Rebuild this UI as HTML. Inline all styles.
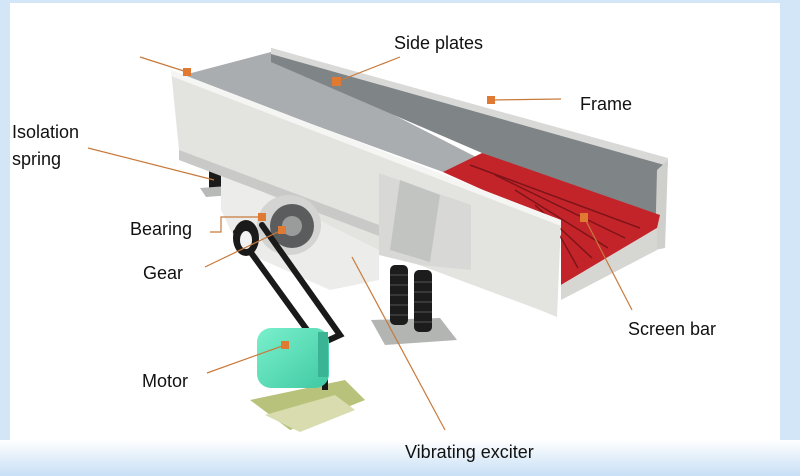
<!DOCTYPE html>
<html><head><meta charset="utf-8"><style>
html,body{margin:0;padding:0;width:800px;height:476px;overflow:hidden;background:#cfe4f6}
svg{display:block}
text{font-family:"Liberation Sans",sans-serif;font-size:18px;fill:#111}
</style></head><body>
<svg width="800" height="476" viewBox="0 0 800 476">
<defs>
<linearGradient id="bb" x1="0" y1="0" x2="0" y2="1"><stop offset="0" stop-color="#ffffff"/><stop offset="1" stop-color="#c7dff5"/></linearGradient>
<linearGradient id="mot" x1="0" y1="0" x2="1" y2="1"><stop offset="0" stop-color="#7af0cc"/><stop offset="1" stop-color="#3fc9a3"/></linearGradient>
</defs>
<rect width="800" height="476" fill="#d3e6f7"/>
<rect x="0" y="440" width="800" height="36" fill="url(#bb)"/>
<rect x="10" y="3" width="770" height="437" fill="#ffffff"/>

<!-- inner floor -->
<polygon points="180,76 271,52 560,200 443,172" fill="#a9adb0"/>
<!-- back wall -->
<polygon points="271,48 668,160 660,225 482,153 271,62" fill="#7f8487"/>
<polygon points="271,48 668,158 668,166 271,54" fill="#d9dad8"/>
<!-- right end frame strip -->
<polygon points="657,170 668,160 665,248 655,250" fill="#cfd0cc"/>
<!-- red screen bars -->
<polygon points="443,172 482,153 660,215 657,228 561,285 561,225" fill="#c3242a"/>
<g stroke="#7e1418" stroke-width="1.5">
<line x1="470" y1="165" x2="640" y2="228"/>
<line x1="495" y1="175" x2="625" y2="238"/>
<line x1="515" y1="190" x2="608" y2="248"/>
<line x1="535" y1="205" x2="592" y2="258"/>
<line x1="550" y1="218" x2="578" y2="268"/>
</g>
<polygon points="561,285 657,228 657,250 561,300" fill="#d6d7d3"/>
<!-- isolation spring left -->
<rect x="209" y="168" width="12" height="22" fill="#1b1b1b"/>
<polygon points="200,188 228,186 232,195 206,197" fill="#b8bab8"/>
<!-- exciter housing -->
<polygon points="221,168 379,240 379,280 330,290 240,250 221,210" fill="#ececea"/>
<!-- front plate -->
<polygon points="171,70 561,220 557,317 540,310 379,250 179,150" fill="#e3e3e0"/>
<polygon points="171,70 561,220 561,226 171,76" fill="#f5f5f3"/>
<polygon points="179,150 379,225 379,236 179,160" fill="#c9cac7"/>
<!-- center bracket -->
<polygon points="379,173 471,205 471,270 420,265 379,255" fill="#d8d9d6"/>
<polygon points="400,180 440,195 430,262 390,250" fill="#c2c4c1"/>
<!-- middle springs -->
<polygon points="371,320 440,318 457,340 385,345" fill="#b3b5b3"/>
<rect x="390" y="265" width="18" height="60" rx="5" fill="#1c1c1c"/>
<rect x="414" y="270" width="18" height="62" rx="5" fill="#1c1c1c"/>
<g stroke="#555" stroke-width="1">
<line x1="390" y1="275" x2="408" y2="275"/><line x1="390" y1="285" x2="408" y2="285"/><line x1="390" y1="295" x2="408" y2="295"/><line x1="390" y1="305" x2="408" y2="305"/><line x1="390" y1="315" x2="408" y2="315"/>
<line x1="414" y1="282" x2="432" y2="282"/><line x1="414" y1="292" x2="432" y2="292"/><line x1="414" y1="302" x2="432" y2="302"/><line x1="414" y1="312" x2="432" y2="312"/><line x1="414" y1="322" x2="432" y2="322"/>
</g>
<!-- gear / bearing -->
<ellipse cx="289" cy="225" rx="32" ry="30" fill="#d4d5d2"/>
<ellipse cx="292" cy="226" rx="22" ry="22" fill="#5a5c5e"/>
<ellipse cx="292" cy="226" rx="10" ry="10" fill="#9a9c9c"/>
<!-- belt -->
<g fill="none" stroke="#1a1a1a" stroke-width="6" stroke-linecap="round">
<path d="M236,232 L318,345 L340,335 L262,225"/>
</g>
<ellipse cx="246" cy="238" rx="13" ry="18" fill="#1a1a1a"/>
<ellipse cx="246" cy="240" rx="6" ry="9" fill="#f2f2f2"/>
<!-- motor base -->
<polygon points="250,400 345,380 365,400 290,430" fill="#b9c27a"/>
<polygon points="265,415 335,395 355,410 300,432" fill="#d9dcae"/>
<rect x="322" y="345" width="6" height="45" fill="#1a1a1a"/>
<!-- motor -->
<rect x="257" y="328" width="72" height="60" rx="14" fill="url(#mot)"/>
<rect x="318" y="332" width="10" height="45" fill="#3bb495"/>
<!-- leader lines -->
<g stroke="#c87a3c" stroke-width="1.2" fill="none">
<line x1="140" y1="57" x2="187" y2="72"/>
<line x1="400" y1="57" x2="336" y2="82"/>
<line x1="491" y1="100" x2="561" y2="99"/>
<line x1="88" y1="148" x2="214" y2="180"/>
<polyline points="210,232 221,232 221,217 262,217"/>
<line x1="205" y1="267" x2="282" y2="230"/>
<line x1="207" y1="373" x2="285" y2="345"/>
<line x1="584" y1="217" x2="632" y2="310"/>
<line x1="352" y1="257" x2="445" y2="430"/>
</g>
<g fill="#e07a32">
<rect x="183" y="68" width="8" height="8"/>
<rect x="332" y="77" width="9" height="9"/>
<rect x="487" y="96" width="8" height="8"/>
<rect x="580" y="213" width="8" height="9"/>
<rect x="258" y="213" width="8" height="8"/>
<rect x="278" y="226" width="8" height="8"/>
<rect x="281" y="341" width="8" height="8"/>
</g>
<!-- labels -->
<text x="394" y="49">Side plates</text>
<text x="580" y="110">Frame</text>
<text x="12" y="138">Isolation</text>
<text x="12" y="165">spring</text>
<text x="130" y="235">Bearing</text>
<text x="143" y="279">Gear</text>
<text x="142" y="387">Motor</text>
<text x="628" y="335">Screen bar</text>
<text x="405" y="458">Vibrating exciter</text>
</svg>
</body></html>
